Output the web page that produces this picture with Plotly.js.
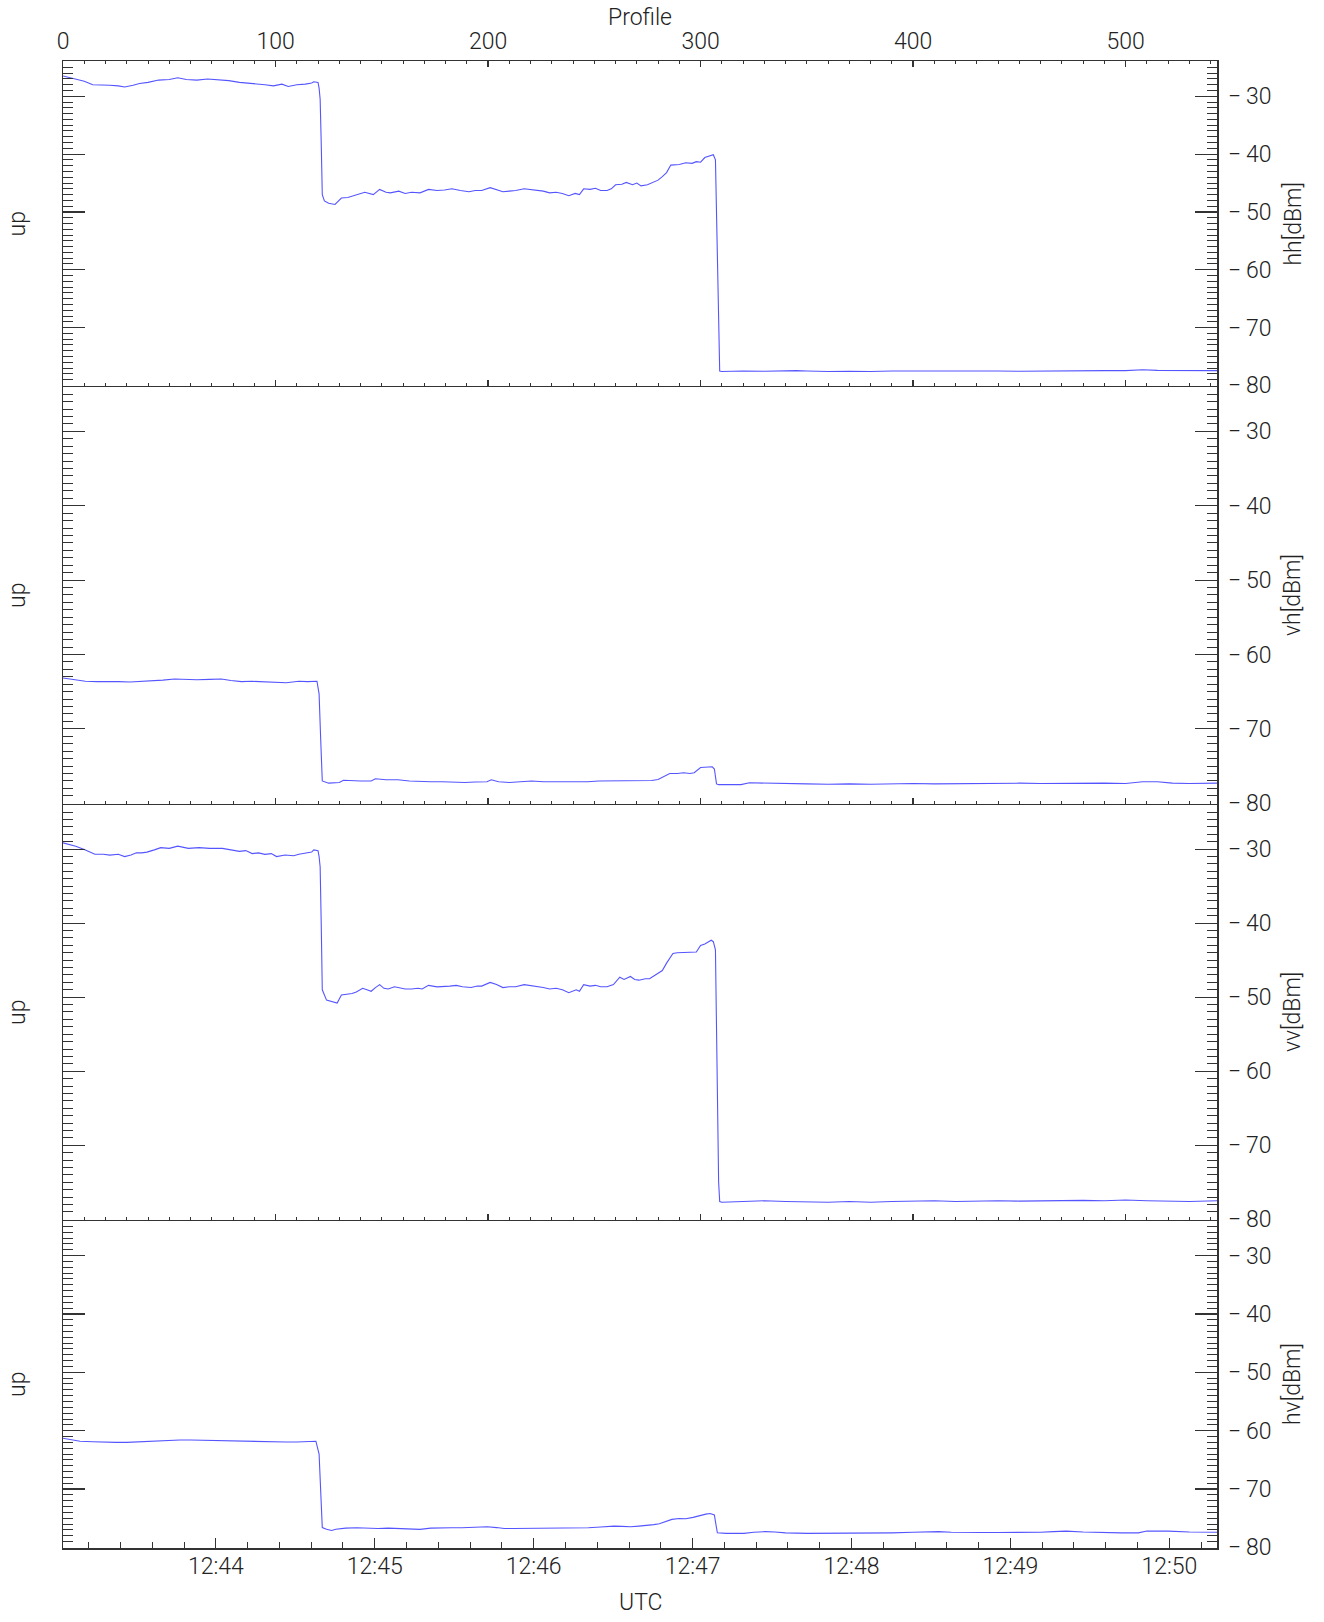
<!DOCTYPE html>
<html>
<head>
<meta charset="utf-8">
<script src="https://cdn.plot.ly/plotly-3.0.1.min.js"></script>
<style>html,body{margin:0;padding:0;background:#fff;}#chart{width:1324px;height:1622px;}</style>
</head>
<body>
<div id="chart"></div>
<script>
// ---- data (profile index, power in dBm) ----
const profileHH = [0,3,6,10,14,18,22,26,29,33,36,40,45,50,54,58,63,68,73,78,83,87,91,95,99,103,106,110,114,117,118,120,120.5,121,121.5,122,123,125,128,131,134,138,142,146,149,152,154,158,161,164,168,172,176,179.5,183,187,191,194,197,201,204,207,210,213,217,220,223,226,229,232,235,238,241,243,245,248,250.5,253,256,258,260,263,265,268,270,272,275,278,280,282,284,286,288,290,293,296,298,300,302,304,306,307,307.5,308.5,309,310,315,320,330,340,345,350,360,370,380,390,400,410,420,430,440,450,460,470,480,490,500,508,515,525,535,543];
const hh = [-26.5,-26.8,-27.0,-27.4,-28.0,-28.0,-28.1,-28.2,-28.4,-28.1,-27.8,-27.6,-27.2,-27.1,-26.8,-27.1,-27.2,-27.0,-27.1,-27.3,-27.6,-27.7,-27.9,-28.0,-28.2,-27.9,-28.3,-28.0,-27.9,-27.7,-27.5,-27.6,-28.6,-30.5,-38.0,-47.0,-48.1,-48.5,-48.7,-47.6,-47.5,-47.1,-46.6,-47.0,-46.1,-46.6,-46.7,-46.4,-46.8,-46.6,-46.7,-46.1,-46.3,-46.2,-46.0,-46.3,-46.5,-46.3,-46.3,-45.8,-46.2,-46.5,-46.4,-46.3,-46.0,-46.1,-46.3,-46.4,-46.7,-46.6,-46.8,-47.2,-46.8,-47.0,-46.0,-46.1,-45.9,-46.3,-46.3,-46.0,-45.3,-45.2,-44.9,-45.3,-45.0,-45.5,-45.3,-44.9,-44.5,-43.9,-43.2,-41.9,-41.8,-41.8,-41.5,-41.6,-41.3,-41.4,-40.6,-40.4,-40.1,-41.0,-52.0,-74.0,-77.5,-77.6,-77.55,-77.5,-77.55,-77.4,-77.45,-77.5,-77.6,-77.55,-77.6,-77.5,-77.55,-77.5,-77.5,-77.45,-77.5,-77.55,-77.5,-77.5,-77.5,-77.45,-77.45,-77.3,-77.4,-77.45,-77.5,-77.45];

const profileVH = [0,5,10.5,16,21,26,31.5,37,42,47,52.5,58,63,69,74.5,79,84,89,94.5,100,105,111,115,119.5,120.5,121.2,122,125,128,130,132,136,140,145,147,152,157.5,163,168,173,178.5,184,189,194,199.5,201.5,205,210,215,220.5,226,231,236,241.5,247,252,257,262.5,268,273,277,280,283,285.5,289,292,295,297,300,303,305.5,306.5,307.5,308.5,313,319,323,329,340,350,360,370,380,390,400,410,420,430,440,450,460,470,480,490,500,508,515,522,530,543];
const vh = [-63.15,-63.4,-63.6,-63.65,-63.7,-63.65,-63.7,-63.6,-63.6,-63.45,-63.3,-63.35,-63.4,-63.35,-63.3,-63.5,-63.65,-63.6,-63.7,-63.7,-63.8,-63.6,-63.65,-63.6,-65.3,-71.0,-77.0,-77.3,-77.3,-77.2,-76.9,-77.0,-77.0,-77.0,-76.7,-76.85,-76.85,-77.0,-77.1,-77.1,-77.1,-77.2,-77.2,-77.15,-77.1,-76.85,-77.1,-77.2,-77.1,-77.0,-77.1,-77.1,-77.15,-77.2,-77.1,-77.0,-77.0,-76.9,-77.0,-77.0,-76.95,-76.8,-76.4,-76.0,-76.0,-75.9,-76.0,-75.9,-75.2,-75.15,-75.1,-75.4,-77.4,-77.5,-77.5,-77.5,-77.25,-77.3,-77.35,-77.4,-77.45,-77.4,-77.45,-77.4,-77.35,-77.4,-77.35,-77.4,-77.35,-77.3,-77.35,-77.3,-77.35,-77.3,-77.35,-77.1,-77.1,-77.3,-77.35,-77.3];

const profileVV = [0,3,6,10,15,19,22,26,29,32,34.5,37,39.5,43,46,50,54,59,64,69,75,79,83,86,89,92,95,98,100.5,104.5,108.5,111,114,117,118,120,120.5,121,121.5,122,124,126,129,131,134,136,138,141,143,145,147,149,151,153,156,158,161,164,167,169,172,176,179.5,182,185,188,192,195,197,201,204,207,210,213,217,220,223,226,229,232,235,238,241.5,243,245,248,250.5,253,256,259,262,264,267,269,271,274,276,278,280,282,284,286,287,289,292,295,298,300,302,305,306,307,307.5,308.5,309,310,320,330,340,350,360,370,380,390,400,410,420,430,440,450,460,470,480,490,500,510,520,530,543];
const vv = [-29.15,-29.4,-29.6,-30.05,-30.7,-30.7,-30.8,-30.7,-31.0,-30.8,-30.5,-30.5,-30.4,-30.1,-29.8,-29.9,-29.6,-29.9,-29.8,-29.9,-29.9,-30.1,-30.3,-30.2,-30.6,-30.5,-30.7,-30.6,-31.0,-30.8,-30.9,-30.7,-30.6,-30.4,-30.1,-30.2,-31.0,-32.4,-40.0,-49.0,-50.4,-50.6,-50.8,-49.7,-49.6,-49.5,-49.3,-48.8,-49.0,-49.2,-48.7,-48.3,-48.8,-48.9,-48.6,-48.7,-48.9,-48.9,-48.8,-48.9,-48.4,-48.6,-48.6,-48.5,-48.4,-48.6,-48.7,-48.5,-48.5,-48.0,-48.3,-48.7,-48.6,-48.6,-48.3,-48.4,-48.5,-48.7,-48.9,-48.8,-49.0,-49.4,-49.0,-49.2,-48.3,-48.5,-48.4,-48.6,-48.6,-48.3,-47.3,-47.6,-47.2,-47.6,-47.7,-47.5,-47.5,-47.1,-46.7,-46.4,-45.4,-44.6,-44.1,-44.0,-44.0,-43.9,-43.9,-43.0,-42.8,-42.3,-42.5,-43.6,-55.0,-75.0,-77.6,-77.7,-77.6,-77.5,-77.6,-77.7,-77.7,-77.6,-77.7,-77.6,-77.5,-77.5,-77.6,-77.5,-77.5,-77.55,-77.5,-77.4,-77.45,-77.5,-77.4,-77.5,-77.55,-77.6,-77.5];

const profileHV = [0,4,8,14,20,25,30,35,40,45,50,55,60,65,70,75,80,85,90,95,100,105,110,115,119,120.5,121.3,122,124,126.4,128.4,133,138.3,143,148.2,153,158.1,163,168,173,177.9,182.8,187.8,194,199.7,204,207.6,212,217.6,222,227.4,233,239.3,243,247.2,253,259.2,263,267.1,271,275,278,280.6,283.5,286.5,290,293,296.5,300.5,302.5,304.5,306.5,307.2,307.9,312,316,320.4,325,330.4,335,340,350.3,360,370,381,390,400,406,412,418,424,432,440,450,460,466,472,480,490,498,506,510,515,520,530,543];
const hv = [-61.3,-61.6,-61.8,-61.9,-62.0,-62.0,-62.0,-61.9,-61.8,-61.7,-61.6,-61.6,-61.6,-61.65,-61.7,-61.7,-61.8,-61.85,-61.9,-61.95,-62.0,-61.95,-61.95,-61.85,-61.8,-64.0,-70.0,-76.6,-76.9,-77.1,-76.9,-76.7,-76.63,-76.7,-76.75,-76.7,-76.75,-76.8,-76.9,-76.7,-76.63,-76.63,-76.63,-76.55,-76.46,-76.6,-76.75,-76.75,-76.75,-76.7,-76.7,-76.65,-76.63,-76.63,-76.63,-76.5,-76.35,-76.4,-76.46,-76.35,-76.25,-76.1,-75.95,-75.6,-75.2,-75.05,-75.1,-74.85,-74.45,-74.3,-74.2,-74.45,-76.0,-77.5,-77.6,-77.65,-77.6,-77.4,-77.3,-77.35,-77.5,-77.6,-77.6,-77.55,-77.55,-77.5,-77.4,-77.3,-77.3,-77.4,-77.45,-77.45,-77.45,-77.45,-77.4,-77.3,-77.2,-77.35,-77.5,-77.5,-77.5,-77.2,-77.2,-77.2,-77.35,-77.4];

// axis ranges and labels
const profileRange = [0, 543];
const timeRange = ['2000-01-01 12:43:02.3', '2000-01-01 12:50:18.0'];
const dbRange = [-80.1, -23.9];
const dbTickVals = [-80, -70, -60, -50, -40, -30];
const dbTickText = ['\u2212\u200980', '\u2212\u200970', '\u2212\u200960', '\u2212\u200950', '\u2212\u200940', '\u2212\u200930'];
const panelNames = ['hh[dBm]', 'vh[dBm]', 'vv[dBm]', 'hv[dBm]'];
const leftLabel = 'up';
const topTitle = 'Profile';
const bottomTitle = 'UTC';

// ---- styling ----
const FONT = {family: 'Roboto, "DejaVu Sans", sans-serif', size: 23, color: '#222', weight: 300};
const LINE = {color: 'rgb(85,85,255)', width: 1.1};
const AX = '#333';

function yAxis(domain, anchor) {
  return {
    domain: domain, anchor: anchor, side: 'right', range: dbRange,
    showline: true, linecolor: AX, linewidth: 1.5, mirror: 'ticks',
    ticks: 'inside', ticklen: 22, tickwidth: 1.2, tickcolor: AX,
    tickmode: 'array', tickvals: dbTickVals, ticktext: dbTickText,
    showgrid: false, zeroline: false,
    minor: {tickmode: 'linear', tick0: -80, dtick: 1, ticks: 'inside', ticklen: 10, tickwidth: 1, tickcolor: AX, showgrid: false},
    tickfont: FONT, ticklabelstandoff: 5
  };
}
function profAxis(anchor, extra) {
  return Object.assign({
    anchor: anchor, domain: [0, 1], range: profileRange,
    showline: true, linecolor: AX, linewidth: 1.5,
    ticks: 'inside', ticklen: 6, tickwidth: 1.2, tickcolor: AX,
    dtick: 100, tick0: 0, showgrid: false, zeroline: false,
    minor: {dtick: 10, ticks: 'inside', ticklen: 3, tickwidth: 1, tickcolor: AX, showgrid: false},
    showticklabels: false, tickfont: FONT
  }, extra || {});
}

const doms = [[0.78144, 1], [0.50034, 0.78144], [0.22058, 0.50034], [0, 0.22058]];

const traces = [
  {x: profileHH, y: hh, xaxis: 'x', yaxis: 'y', mode: 'lines', line: LINE, hoverinfo: 'skip'},
  {x: profileVH, y: vh, xaxis: 'x2', yaxis: 'y2', mode: 'lines', line: LINE, hoverinfo: 'skip'},
  {x: profileVV, y: vv, xaxis: 'x3', yaxis: 'y3', mode: 'lines', line: LINE, hoverinfo: 'skip'},
  {x: profileHV, y: hv, xaxis: 'x4', yaxis: 'y4', mode: 'lines', line: LINE, hoverinfo: 'skip'},
  // carrier for the time axis (outside the value range, never visible)
  {x: timeRange, y: [-200, -200], xaxis: 'x5', yaxis: 'y4', mode: 'markers', marker: {opacity: 0}, hoverinfo: 'skip'}
];

const annotations = [
  {xref: 'paper', yref: 'paper', x: 0.5, y: 1.0292, text: topTitle, showarrow: false,
   xanchor: 'center', yanchor: 'middle', font: FONT},
  {xref: 'paper', yref: 'paper', x: 0.5, y: -0.0365, text: bottomTitle, showarrow: false,
   xanchor: 'center', yanchor: 'middle', font: FONT, borderpad: 0}
];
panelNames.forEach(function (name, i) {
  const yc = (doms[i][0] + doms[i][1]) / 2;
  annotations.push({xref: 'paper', yref: 'paper', x: 1.0659, y: yc, text: name, textangle: -90,
    showarrow: false, xanchor: 'center', yanchor: 'middle', font: FONT});
  annotations.push({xref: 'paper', yref: 'paper', x: -0.039, y: yc, text: leftLabel, textangle: -90,
    showarrow: false, xanchor: 'center', yanchor: 'middle', font: FONT});
});

const layout = {
  width: 1324, height: 1622,
  margin: {l: 63, r: 107, t: 61, b: 74, pad: 0},
  paper_bgcolor: '#fff', plot_bgcolor: '#fff', showlegend: false,
  font: FONT,
  xaxis: profAxis('y', {side: 'top', mirror: 'ticks', showticklabels: true, ticklabelstandoff: 1}),
  xaxis2: profAxis('y2', {matches: 'x'}),
  xaxis3: profAxis('y3', {matches: 'x'}),
  xaxis4: profAxis('y4', {matches: 'x', visible: false}),
  xaxis5: {
    anchor: 'y4', overlaying: 'x4', type: 'date', range: timeRange, side: 'bottom',
    showline: true, linecolor: AX, linewidth: 1.5,
    ticks: 'inside', ticklen: 10, tickwidth: 1.2, tickcolor: AX,
    dtick: 60000, tickformat: '%H:%M', showgrid: false, zeroline: false,
    minor: {dtick: 12000, ticks: 'inside', ticklen: 6, tickwidth: 1, tickcolor: AX, showgrid: false},
    tickfont: FONT, ticklabelstandoff: -3
  },
  yaxis: yAxis(doms[0], 'x'),
  yaxis2: yAxis(doms[1], 'x2'),
  yaxis3: yAxis(doms[2], 'x3'),
  yaxis4: yAxis(doms[3], 'x4'),
  annotations: annotations
};

Plotly.newPlot('chart', traces, layout, {staticPlot: true, displayModeBar: false});
</script>
</body>
</html>
